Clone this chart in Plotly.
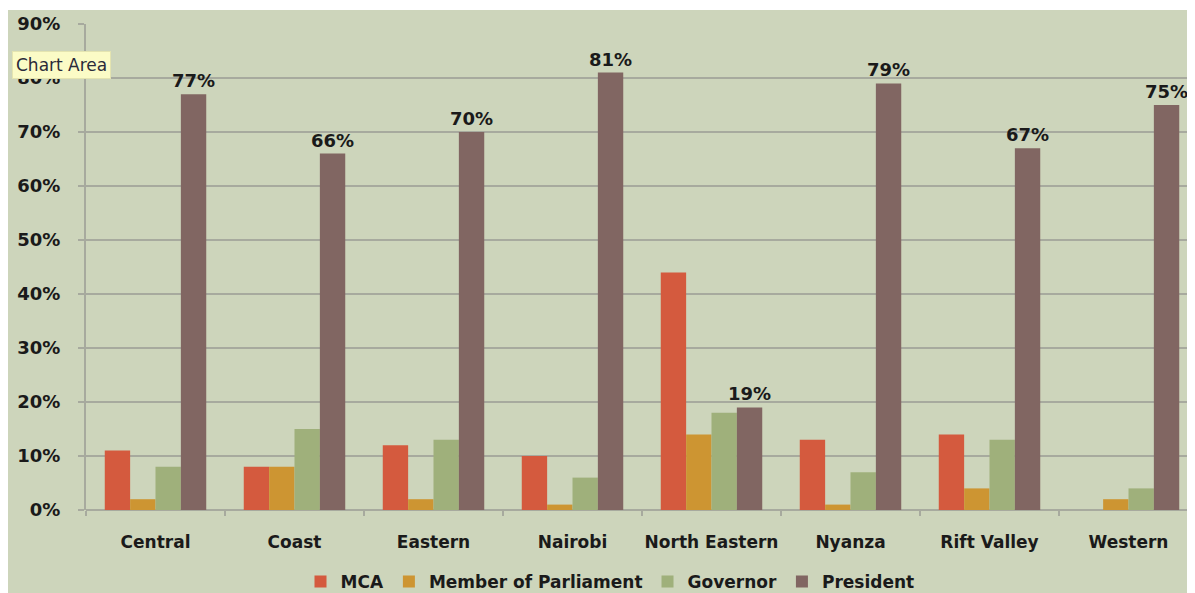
import plotly.graph_objects as go

categories = ["Central", "Coast", "Eastern", "Nairobi", "North Eastern", "Nyanza", "Rift Valley", "Western"]
mca = [11, 8, 12, 10, 44, 13, 14, 0]
mp = [2, 8, 2, 1, 14, 1, 4, 2]
governor = [8, 15, 13, 6, 18, 7, 13, 4]
president = [77, 66, 70, 81, 19, 79, 67, 75]
y_ticks = [0, 10, 20, 30, 40, 50, 60, 70, 80, 90]

series = [
    ("MCA", mca, "#d45a3e"),
    ("Member of Parliament", mp, "#cd9532"),
    ("Governor", governor, "#9fb07b"),
    ("President", president, "#816662"),
]

BG = "#cdd5bb"
GRID = "#a7aa9e"
FONT = "DejaVu Sans"

fig = go.Figure()
for name, vals, col in series:
    kw = {}
    if name == "President":
        kw = dict(text=[f"{v}%" for v in vals], textposition="outside",
                  textfont=dict(family=FONT, size=18, color="#1a1a1a", weight="bold"),
                  cliponaxis=False, constraintext="none")
    fig.add_trace(go.Bar(
        name=name, x=categories, y=vals, marker=dict(color=col, line=dict(width=0)),
        hoverinfo="skip", **kw))

W, H = 1195, 593
L, R, T, B = 78, 5, 16, 91
pw = W - L - R
ph = H - T - B

def px_x(p):
    return (p - L) / pw

def px_y(p):
    return (H - B - p) / ph

fig.update_layout(
    width=W, height=H,
    margin=dict(l=L, r=R, t=T, b=B, autoexpand=False),
    paper_bgcolor=BG, plot_bgcolor=BG,
    barmode="group", bargap=0.27, bargroupgap=0,
    font=dict(family=FONT, size=17, color="#1a1a1a"),
    showlegend=True,
    legend=dict(orientation="h", x=px_x(602), xanchor="center", y=px_y(574), yanchor="middle",
                font=dict(family=FONT, size=17, color="#1a1a1a", weight="bold"),
                bgcolor="rgba(0,0,0,0)", itemwidth=30, traceorder="normal"),
    xaxis=dict(
        range=[-0.5, 7.5], showgrid=False, showline=False, automargin=False,
        ticks="outside", tickson="boundaries", ticklen=5, tickcolor=GRID, tickwidth=1.5,
        tickangle=0,
        tickfont=dict(family=FONT, size=17, color="#1a1a1a", weight="bold"),
        ticklabelstandoff=20, fixedrange=True,
    ),
    yaxis=dict(
        range=[0, 90], tickvals=y_ticks, ticktext=[f"{v}%" for v in y_ticks],
        showgrid=True, gridcolor=GRID, gridwidth=2, automargin=False,
        zeroline=True, zerolinecolor=GRID, zerolinewidth=2,
        showline=True, linecolor=GRID, linewidth=2,
        ticks="outside", ticklen=6, tickcolor=GRID, tickwidth=2,
        tickfont=dict(family=FONT, size=18, color="#1a1a1a", weight="bold"),
        ticklabelstandoff=14, fixedrange=True,
    ),
    shapes=[
        dict(type="rect", xref="paper", yref="paper", x0=px_x(-2), x1=px_x(W + 2),
             y0=px_y(2), y1=px_y(-2), fillcolor="white", line=dict(width=0), layer="below"),
    ],
    annotations=[
        dict(text="Chart Area", xref="paper", yref="paper", x=px_x(4), y=px_y(57.5),
             xanchor="left", yanchor="middle", showarrow=False,
             font=dict(family="DejaVu Sans", size=17, color="#2a2a3a"),
             bgcolor="#fbfbc6", bordercolor="#e4e4b0", borderwidth=1, borderpad=3),
    ],
)

fig.write_html("out.html")
